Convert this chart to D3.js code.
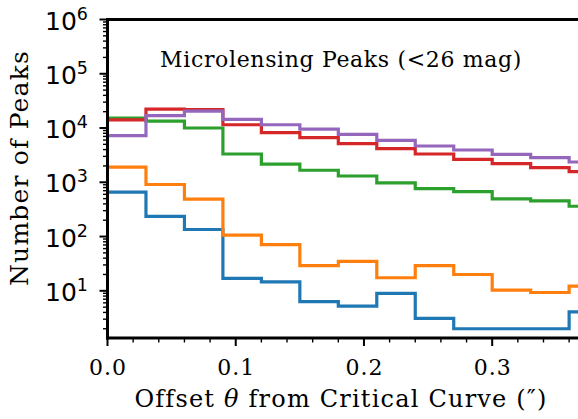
<!DOCTYPE html>
<html><head><meta charset="utf-8">
<script src="https://cdn.jsdelivr.net/npm/d3@7"></script>
<style>html,body{margin:0;padding:0;background:#fff;}svg{display:block;}</style>
</head><body>
<svg id="chart" width="578" height="419"></svg>
<script>
// ---- data ----
const binEdges = [0, 0.03, 0.06, 0.09, 0.12, 0.15, 0.18, 0.21, 0.24, 0.27, 0.30, 0.33, 0.36, 0.39];
const seriesBlue   = [660, 235, 135, 17, 14.6, 6.3, 5.2, 9.0, 3.1, 2.0, 2.0, 2.0, 4.1];
const seriesOrange = [1900, 910, 490, 106, 71, 29, 35, 17.4, 29, 20, 10.3, 9.3, 12.2];
const seriesGreen  = [15300, 13400, 10000, 3320, 2170, 1665, 1307, 972, 766, 675, 493, 453, 362];
const seriesRed    = [14100, 22300, 21800, 11500, 8200, 6650, 5160, 4175, 3320, 2650, 2210, 1866, 1575];
const seriesPurple = [7240, 16900, 20500, 14400, 11500, 9580, 7650, 5935, 4660, 3935, 3280, 2850, 2365];
const seriesList = [seriesBlue, seriesOrange, seriesGreen, seriesRed, seriesPurple];
const colors = ["#1f77b4", "#ff7f0e", "#2ca02c", "#d62728", "#9467bd"];
const xTickVals = [0.0, 0.1, 0.2, 0.3];
const xTickLabels = ["0.0", "0.1", "0.2", "0.3"];
const yTickExps = [1, 2, 3, 4, 5, 6];
const annotation = "Microlensing Peaks (<26 mag)";

// ---- layout ----
const svg = d3.select("#chart");
const L = 107.5, T = 19.5, B = 338;
const x = d3.scaleLinear().domain([0, 0.4]).range([L, L + 1282.3 * 0.4]);
const y = d3.scaleLog().domain([1.35, 1e6]).range([B, T]);

svg.append("defs").append("clipPath").attr("id", "clip")
  .append("rect").attr("x", L).attr("y", T).attr("width", 700).attr("height", B - T);

// step lines
const gLines = svg.append("g").attr("clip-path", "url(#clip)");
const line = d3.line().x(d => x(d[0])).y(d => y(d[1])).curve(d3.curveStepAfter);
seriesList.forEach((s, i) => {
  const pts = s.map((v, k) => [binEdges[k], v]);
  pts.push([binEdges[s.length], s[s.length - 1]]);
  gLines.append("path").attr("d", line(pts)).attr("fill", "none")
    .attr("stroke", colors[i]).attr("stroke-width", 3.2).attr("stroke-linejoin", "miter");
});

// y axis ticks
const gy = svg.append("g");
const yMinor = [];
for (let e = 0; e <= 5; e++) for (let m = 2; m <= 9; m++) { const v = m * Math.pow(10, e); if (v >= 1.35 && v <= 1e6) yMinor.push(v); }
yMinor.forEach(v => gy.append("line").attr("x1", L - 4.5).attr("x2", L).attr("y1", y(v)).attr("y2", y(v))
  .attr("stroke", "#000").attr("stroke-width", 1.4));
yTickExps.forEach(e => {
  const v = Math.pow(10, e);
  gy.append("line").attr("x1", L - 8).attr("x2", L).attr("y1", y(v)).attr("y2", y(v))
    .attr("stroke", "#000").attr("stroke-width", 2);
  const t = gy.append("text").attr("x", 88).attr("y", y(v) + 10).attr("text-anchor", "end")
    .attr("font-family", "DejaVu Sans").attr("font-size", 25).attr("fill", "#000");
  t.append("tspan").text("10");
  t.append("tspan").attr("font-size", 17.5).attr("dy", -10).text(String(e));
});

// x axis ticks
const gx = svg.append("g");
for (let k = 0; k <= 20; k++) {
  const v = k * 0.02;
  if (x(v) > 580) break;
  const major = (k % 5 === 0);
  gx.append("line").attr("x1", x(v)).attr("x2", x(v)).attr("y1", B).attr("y2", B + (major ? 8 : 4.5))
    .attr("stroke", "#000").attr("stroke-width", major ? 2 : 1.4);
}
xTickVals.forEach((v, i) => {
  gx.append("text").attr("x", x(v) + 0.5).attr("y", 375).attr("text-anchor", "middle")
    .attr("font-family", "DejaVu Serif").attr("font-size", 22).attr("letter-spacing", 1)
    .attr("fill", "#000").text(xTickLabels[i]);
});

// spines
svg.append("line").attr("x1", L).attr("x2", L).attr("y1", T - 1.5).attr("y2", B + 1.5).attr("stroke", "#000").attr("stroke-width", 3);
svg.append("line").attr("x1", L - 1.5).attr("x2", 600).attr("y1", B).attr("y2", B).attr("stroke", "#000").attr("stroke-width", 3);
svg.append("line").attr("x1", L - 1.5).attr("x2", 600).attr("y1", T).attr("y2", T).attr("stroke", "#000").attr("stroke-width", 3);

// annotation
svg.append("text").attr("x", 341).attr("y", 67).attr("text-anchor", "middle")
  .attr("font-family", "DejaVu Serif").attr("font-size", 22).attr("letter-spacing", 0.65)
  .attr("fill", "#000").text(annotation);

// axis labels
const xl = svg.append("text").attr("x", 341).attr("y", 407).attr("text-anchor", "middle")
  .attr("font-family", "DejaVu Serif").attr("font-size", 24).attr("letter-spacing", 1.2).attr("fill", "#000");
xl.append("tspan").text("Offset ");
xl.append("tspan").attr("font-style", "italic").text("θ");
xl.append("tspan").text(" from Critical Curve (″)");

svg.append("text").attr("transform", "translate(28,168) rotate(-90)").attr("text-anchor", "middle")
  .attr("font-family", "DejaVu Serif").attr("font-size", 25).attr("letter-spacing", 1.2)
  .attr("fill", "#000").text("Number of Peaks");
</script>
</body></html>
